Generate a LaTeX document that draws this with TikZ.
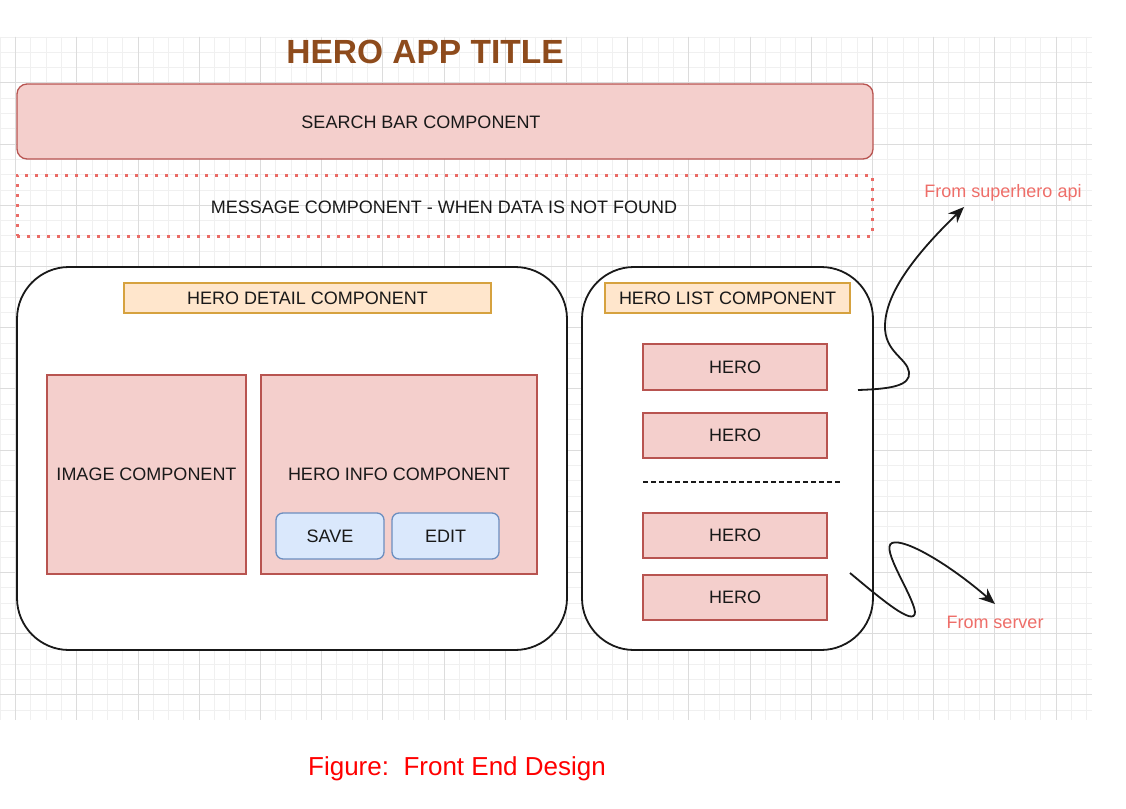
\documentclass[tikz,border=0pt]{standalone}
\usepackage{fontspec}
\setmainfont{Liberation Sans}
\usetikzlibrary{arrows.meta}

\definecolor{redfill}{HTML}{F4CFCC}
\definecolor{redline}{HTML}{B85450}
\definecolor{orfill}{HTML}{FFE6CC}
\definecolor{orline}{HTML}{D6A23F}
\definecolor{bluefill}{HTML}{DAE8FC}
\definecolor{blueline}{HTML}{6C8EBF}
\definecolor{dotred}{HTML}{EA6B66}
\definecolor{titlebrown}{HTML}{8E4B1C}
\definecolor{gridminor}{HTML}{F0F0F0}
\definecolor{gridmajor}{HTML}{DCDCDC}
\definecolor{notered}{HTML}{EE6E69}

\begin{document}
\begin{tikzpicture}[x=1pt,y=-1pt,
  every node/.style={inner sep=0pt, outer sep=0pt},
  txt/.style={text=black!90, font=\fontsize{18}{20}\selectfont},
  comp/.style={draw=redline, fill=redfill, line width=1.3pt, txt},
  hdr/.style={draw=orline, fill=orfill, line width=1.3pt, txt},
  btn/.style={draw=blueline, fill=bluefill, line width=1.3pt, rounded corners=7pt, txt},
  frame/.style={draw=black!90, fill=white, line width=1.8pt, rounded corners=52pt},
  wire/.style={draw=black!90, line width=1.8pt, -{Stealth[length=16pt,width=13pt]}},
  note/.style={text=notered, font=\fontsize{18}{20}\selectfont},
]
\useasboundingbox[fill=white] (0,0) rectangle (1126,808);

% background grid
\begin{scope}
  \clip (0,36.7) rectangle (1092,720);
  \foreach \i in {0,...,71} {
    \pgfmathsetmacro\xx{0.3+15.3*\i}
    \draw[gridminor, line width=0.9pt] (\xx,36.7) -- (\xx,720);
  }
  \foreach \j in {0,...,45} {
    \pgfmathsetmacro\yy{37+15.3*\j}
    \draw[gridminor, line width=0.9pt] (0,\yy) -- (1092,\yy);
  }
  \foreach \i in {0,...,17} {
    \pgfmathsetmacro\xx{15.6+61.2*\i}
    \draw[gridmajor, line width=1pt] (\xx,36.7) -- (\xx,720);
  }
  \foreach \j in {0,...,11} {
    \pgfmathsetmacro\yy{21.7+61.2*\j}
    \draw[gridmajor, line width=1pt] (0,\yy) -- (1092,\yy);
  }
\end{scope}

% title
\node[text=titlebrown, font=\fontsize{33.5}{36}\selectfont\bfseries] (title) at (425,52) {HERO APP TITLE};

% search bar and message
\node[comp, rounded corners=10pt, minimum width=856pt, minimum height=75pt] (search) at (445,121.5) {};
\node[txt] (searchtxt) at (421,122) {SEARCH BAR COMPONENT};
\node[draw=dotred, line width=3pt, dash pattern=on 3pt off 7pt, minimum width=855pt, minimum height=61pt] (msg) at (444.5,205.5) {};
\node[txt] (msgtxt) at (444,207) {MESSAGE COMPONENT - WHEN DATA IS NOT FOUND};

% hero detail
\node[frame, minimum width=550pt, minimum height=383pt] (detail) at (292,458.5) {};
\node[hdr, minimum width=367pt, minimum height=30pt] (detailhdr) at (307.5,298) {HERO DETAIL COMPONENT};
\node[comp, minimum width=199pt, minimum height=199pt] (image) at (146.5,474.5) {IMAGE COMPONENT};
\node[comp, minimum width=276pt, minimum height=199pt] (info) at (399,474.5) {HERO INFO COMPONENT};
\node[btn, minimum width=108pt, minimum height=46pt] (save) at (330,536) {SAVE};
\node[btn, minimum width=107pt, minimum height=46pt] (edit) at (445.5,536) {EDIT};

% hero list
\node[frame, minimum width=291pt, minimum height=383pt] (list) at (727.5,458.5) {};
\node[hdr, minimum width=245pt, minimum height=30pt] (listhdr) at (727.5,298) {HERO LIST COMPONENT};
\node[comp, minimum width=184pt, minimum height=46pt] (hero1) at (735,367) {HERO};
\node[comp, minimum width=184pt, minimum height=45pt] (hero2) at (735,435.5) {HERO};
\node[comp, minimum width=184pt, minimum height=45pt] (hero3) at (735,535.5) {HERO};
\node[comp, minimum width=184pt, minimum height=45pt] (hero4) at (735,597.5) {HERO};
\coordinate (dashL) at (643,482);
\coordinate (dashR) at (842,482);
\draw[black!90, line width=1.5pt, dash pattern=on 5pt off 3pt] (dashL) -- (dashR);

% data sources
\node[note] (apinote) at (1003,192.5) {From superhero api};
\node[note] (srvnote) at (995,622) {From server};
\coordinate (apiS) at (858,390);
\coordinate (apiT) at (964,207);
\coordinate (srvS) at (850,573);
\coordinate (srvT) at (995,604);
\draw[wire] (apiS) .. controls (890,389) and (911,386) .. (909,372)
  .. controls (907,358) and (884,352) .. (885,325)
  .. controls (886,290) and (920,250) .. (apiT);
\draw[wire] (srvS) .. controls (880,598) and (915,628) .. (915,612)
  .. controls (913,595) and (880,548) .. (892,543)
  .. controls (905,538) and (950,565) .. (srvT);

% caption
\node[text=red, font=\fontsize{26}{30}\selectfont] (caption) at (457,768.5) {Figure:\ \ Front End Design};
\end{tikzpicture}
\end{document}
